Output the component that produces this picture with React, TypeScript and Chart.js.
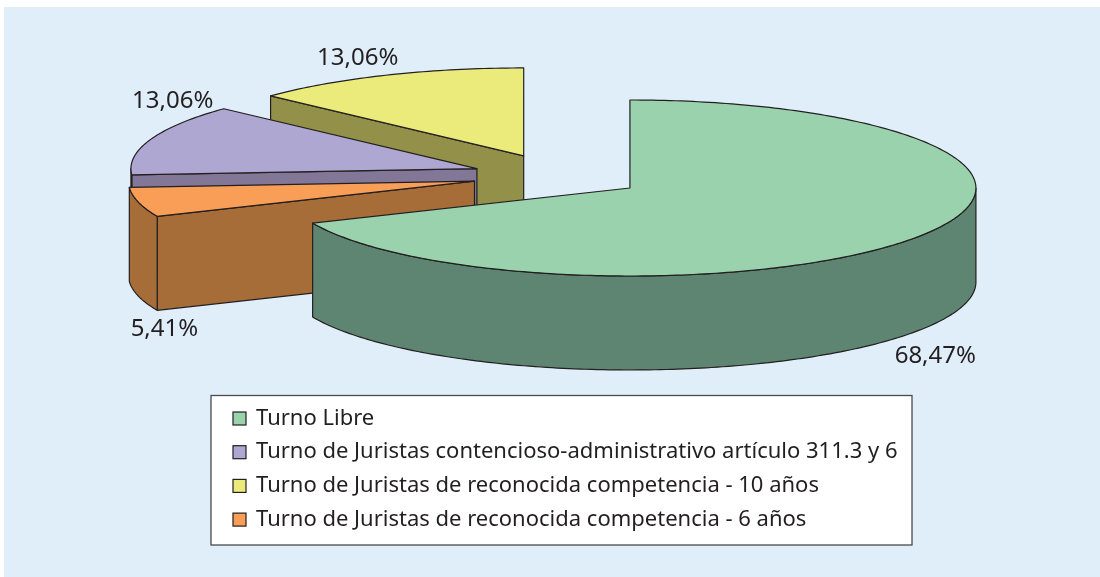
import React, { useEffect, useRef } from "react";
import { Chart, registerables } from "chart.js";

Chart.register(...registerables);

// Data: in the clockwise order of the slices
const categories = [
  "Turno Libre",
  "Turno de Juristas de reconocida competencia - 6 años",
  "Turno de Juristas contencioso-administrativo artículo 311.3 y 6",
  "Turno de Juristas de reconocida competencia - 10 años",
];
const shares = [68.47, 5.41, 13.06, 13.06];
const valueLabels = ["68,47%", "5,41%", "13,06%", "13,06%"];
const topColors = ["#99D2AC", "#F99E57", "#ADA7D2", "#EBEB7C"];
const wallColors = ["#5D8571", "#A66D38", "#827796", "#929049"];
const legendOrder = [0, 2, 3, 1];
const labelNudges = [[16, 120], [26, 127], [22, -38], [-28, -17]];

const TILT = 88 / 346;
const DEPTH = 94;
const EXPLODE = 86;
const RADIUS = 346;
const FONT = '"Noto Sans", sans-serif';
const INK = "#231F20";

const pie3d = {
  id: "pie3d",
  beforeDraw(chart: any) {
    const { ctx, width, height } = chart;
    ctx.save();
    ctx.fillStyle = "#FFFFFF";
    ctx.fillRect(0, 0, width, height);
    ctx.fillStyle = "#E0EEFA";
    ctx.fillRect(4, 7, width - 4, height - 7);
    ctx.restore();
  },
  beforeDatasetsDraw(chart: any) {
    const { ctx } = chart;
    const arcs = chart.getDatasetMeta(0).data;
    const order = arcs.map((_: any, i: number) => i).reverse();
    for (const i of order) {
      const el = arcs[i];
      const a = el.startAngle;
      const b = el.endAngle;
      const mid = (a + b) / 2;
      const R = el.outerRadius;
      const cx = el.x + EXPLODE * Math.cos(mid);
      const cy = el.y + EXPLODE * Math.sin(mid) * TILT;
      const px = (t: number) => cx + R * Math.cos(t);
      const py = (t: number) => cy + R * Math.sin(t) * TILT;
      ctx.save();
      ctx.lineWidth = 1.2;
      ctx.lineJoin = "round";
      ctx.strokeStyle = INK;
      ctx.fillStyle = wallColors[i];

      const wall = (pts: Array<[number, number]>) => {
        ctx.beginPath();
        pts.forEach((p, k) => (k ? ctx.lineTo(p[0], p[1]) : ctx.moveTo(p[0], p[1])));
        for (let k = pts.length - 1; k >= 0; k--) ctx.lineTo(pts[k][0], pts[k][1] + DEPTH);
        ctx.closePath();
        ctx.fill();
        ctx.stroke();
      };

      // flat side walls that face the viewer
      if (Math.cos(a) < 0) wall([[cx, cy], [px(a), py(a)]]);
      if (Math.cos(b) > 0) wall([[cx, cy], [px(b), py(b)]]);

      // curved wall: only the part of the rim in front
      const ranges: Array<[number, number]> = [];
      for (const shift of [0, 2 * Math.PI, -2 * Math.PI]) {
        const s = Math.max(a, shift);
        const e = Math.min(b, shift + Math.PI);
        if (e > s) ranges.push([s, e]);
      }
      for (const [s, e] of ranges) {
        const pts: Array<[number, number]> = [];
        const steps = Math.max(4, Math.ceil((e - s) * 60));
        for (let k = 0; k <= steps; k++) {
          const t = s + ((e - s) * k) / steps;
          pts.push([px(t), py(t)]);
        }
        wall(pts);
      }

      // top face: the library's arc element, squashed
      ctx.save();
      ctx.translate(cx, cy);
      ctx.scale(1, TILT);
      ctx.translate(-el.x, -el.y);
      el.draw(ctx);
      ctx.restore();

      // outline of the top face at an even line width
      ctx.beginPath();
      ctx.moveTo(cx, cy);
      const n = Math.ceil((b - a) * 60);
      for (let k = 0; k <= n; k++) {
        const t = a + ((b - a) * k) / n;
        ctx.lineTo(px(t), py(t));
      }
      ctx.closePath();
      ctx.stroke();
      ctx.restore();
    }
    return false;
  },
  afterDraw(chart: any) {
    const { ctx } = chart;
    const arcs = chart.getDatasetMeta(0).data;
    ctx.save();
    ctx.fillStyle = INK;
    ctx.font = `24px ${FONT}`;
    ctx.textAlign = "center";
    ctx.textBaseline = "middle";
    arcs.forEach((el: any, i: number) => {
      const mid = (el.startAngle + el.endAngle) / 2;
      const x = el.x + (EXPLODE + el.outerRadius) * Math.cos(mid) + labelNudges[i][0];
      const y = el.y + (EXPLODE + el.outerRadius) * Math.sin(mid) * TILT + labelNudges[i][1];
      ctx.fillText(valueLabels[i], x, y);
    });

    // legend box
    ctx.fillStyle = "#FFFFFF";
    ctx.strokeStyle = "#4A4A4C";
    ctx.lineWidth = 1.3;
    ctx.fillRect(211, 395.5, 701, 149.5);
    ctx.strokeRect(211, 395.5, 701, 149.5);
    ctx.textAlign = "left";
    legendOrder.forEach((idx, row) => {
      const y = 418.5 + row * 33.7;
      ctx.fillStyle = topColors[idx];
      ctx.strokeStyle = INK;
      ctx.lineWidth = 1.2;
      ctx.fillRect(233, y - 6.5, 13, 13);
      ctx.strokeRect(233, y - 6.5, 13, 13);
      ctx.fillStyle = INK;
      ctx.font = `22px ${FONT}`;
      ctx.fillText(categories[idx], 256, y);
    });
    ctx.restore();
  },
};

export default function App() {
  const ref = useRef<HTMLCanvasElement>(null);
  useEffect(() => {
    const chart = new Chart(ref.current as HTMLCanvasElement, {
      type: "pie",
      data: {
        labels: categories,
        datasets: [
          {
            data: shares,
            backgroundColor: topColors,
            borderWidth: 0,
            radius: RADIUS,
            clip: false,
          } as any,
        ],
      },
      options: {
        responsive: false,
        animation: false,
        layout: { padding: { left: 16, right: 0, top: 0, bottom: 225 } },
        plugins: { legend: { display: false }, tooltip: { enabled: false } },
      },
      plugins: [pie3d],
    } as any);
    return () => chart.destroy();
  }, []);
  return (
    <div style={{ position: "absolute", left: 0, top: 0, width: 1100, height: 577 }}>
      <canvas ref={ref} width={1100} height={577} style={{ display: "block" }} />
    </div>
  );
}
